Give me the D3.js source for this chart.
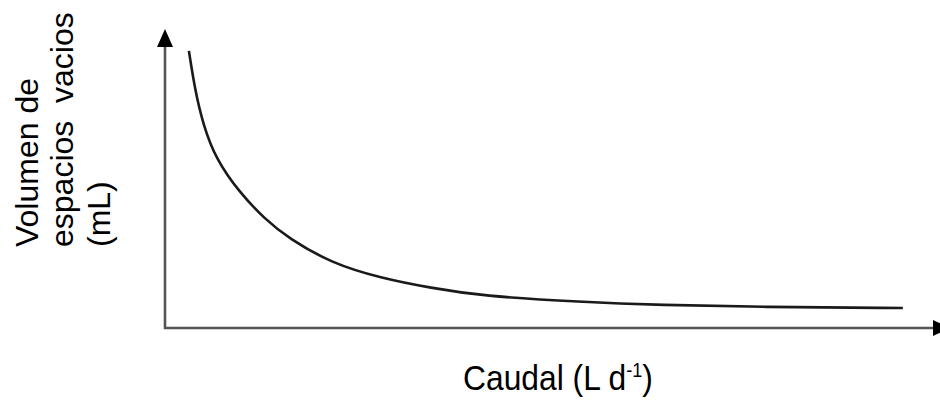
<!DOCTYPE html>
<html>
<head>
<meta charset="utf-8">
<script src="https://cdn.jsdelivr.net/npm/d3@7"></script>
<style>
html,body{margin:0;padding:0;background:#fff;}
svg{display:block;}
</style>
</head>
<body>
<svg id="chart" width="940" height="401"></svg>
<script>
// Curve values (arbitrary units)
const caudal  = [3.1, 3.9, 5.0, 6.6, 9.5, 13.0, 16.0, 21.5, 28.0, 34.5, 41.0, 54.0, 64.3, 77.3, 95.7];
const volumen = [93.3, 80.0, 68.0, 57.0, 46.1, 36.5, 30.3, 21.9, 16.8, 13.5, 10.8, 8.75, 7.74, 7.07, 6.73];
const yLabelLines = ["Volumen de", "espacios  vacios", "(mL)"];
const xLabelMain = "Caudal (L d";
const xLabelSup = "-1";
const xLabelEnd = ")";

const svg = d3.select("#chart");
const x = d3.scaleLinear().domain([0, 100]).range([165, 936]);
const y = d3.scaleLinear().domain([0, 100]).range([328, 31]);

const axisColor = "#555";
// y axis
svg.append("line")
  .attr("x1", x(0)).attr("x2", x(0))
  .attr("y1", y(0) + 1).attr("y2", y(100) + 14)
  .attr("stroke", axisColor).attr("stroke-width", 2.6);
svg.append("path")
  .attr("d", `M${x(0)},${y(100) - 2} L${x(0) - 8},${y(100) + 16} L${x(0) + 8},${y(100) + 16} Z`)
  .attr("fill", "#000");
// x axis
svg.append("line")
  .attr("x1", x(0) - 1).attr("x2", x(100) - 2)
  .attr("y1", y(0)).attr("y2", y(0))
  .attr("stroke", axisColor).attr("stroke-width", 2.6);
svg.append("path")
  .attr("d", `M${x(100) + 14},${y(0)} L${x(100) - 3},${y(0) - 8} L${x(100) - 3},${y(0) + 8} Z`)
  .attr("fill", "#000");

// curve
const pts = caudal.map((c, i) => [c, volumen[i]]);
svg.append("path")
  .datum(pts)
  .attr("fill", "none")
  .attr("stroke", "#1a1a1a")
  .attr("stroke-width", 2.6)
  .attr("d", d3.line().x(d => x(d[0])).y(d => y(d[1])).curve(d3.curveBasis));

// y label
const font = "'Liberation Sans', Arial, sans-serif";
const yl = svg.append("g").attr("transform", "translate(0,247) rotate(-90)");
const baselines = [38, 73, 110];
yLabelLines.forEach((t, i) => {
  yl.append("text")
    .attr("x", 0).attr("y", baselines[i])
    .attr("font-family", font).attr("font-size", 32)
    .attr("fill", "#000")
    .attr("xml:space", "preserve")
    .style("white-space", "pre")
    .text(t);
});

// x label
const xg = svg.append("g");
const xt = xg.append("text")
  .attr("x", 0).attr("y", 0)
  .attr("font-family", font).attr("font-size", 35).attr("fill", "#000");
xt.append("tspan").text(xLabelMain);
xt.append("tspan").attr("font-size", 20).attr("dy", -13).text(xLabelSup);
xt.append("tspan").attr("dy", 13).text(xLabelEnd);
const w = xt.node().getBBox().width;
const sx = 190 / w;
xg.attr("transform", `translate(463,390) scale(${sx},1)`);
</script>
</body>
</html>
